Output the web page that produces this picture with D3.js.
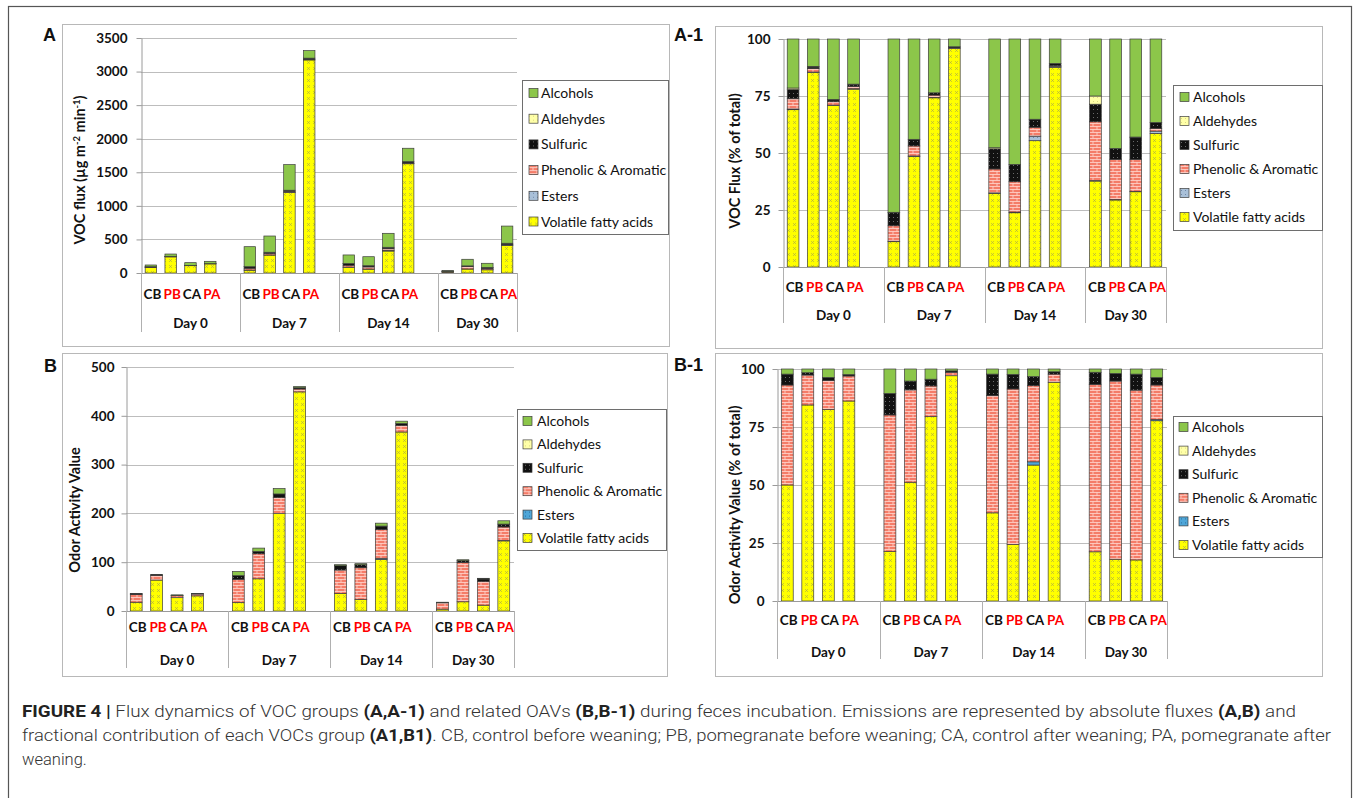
<!DOCTYPE html>
<html><head><meta charset="utf-8">
<script src="https://cdn.jsdelivr.net/npm/d3@7/dist/d3.min.js"></script>
<style>
body{margin:0;background:#fff;}
svg{display:block;}
</style></head><body>
<svg id="fig" width="1360" height="798"></svg>
<script>
// ---------- DATA ----------
const days = ["Day 0","Day 7","Day 14","Day 30"];
const treatments = ["CB","PB","CA","PA"];
const legendGroups = ["Alcohols","Aldehydes","Sulfuric","Phenolic & Aromatic","Esters","Volatile fatty acids"];
const stackGroups = ["Volatile fatty acids","Esters","Phenolic & Aromatic","Sulfuric","Aldehydes","Alcohols"];

const fluxTicks = [0,500,1000,1500,2000,2500,3000,3500];
const pctTicks = [0,25,50,75,100];
const oavTicks = [0,100,200,300,400,500];

// Panel A: VOC flux (µg m-2 min-1); order Day0 CB,PB,CA,PA | Day7 | Day14 | Day30
const fluxVFA       = [82,241,109,136, 43,268,1198,3173, 87,58,327,1627, 13,60,48,410];
const fluxEsters    = [0.4,0.6,0.3,0, 1,1,3,0, 0.5,0.7,12,7, 0,0.4,0.3,7];
const fluxPhenolic  = [5,4,2.3,1.7, 27,24,16,10, 28,32,23,6, 9,36,20,8];
const fluxSulfuric  = [5,2,1.2,1.2, 22,16,16,17, 24,18,21,19, 3,10,14,18];
const fluxAldehydes = [1,1,0.3,0, 1,0,0,0, 1.3,0,0,0, 1,0,0.4,0];
const fluxAlcohols  = [26,34,41,35, 298,242,381,112, 128,134,208,199, 9,98,62,256];

// Panel A-1: VOC flux (% of total)
const pctFluxVFA       = [69,85.3,70.8,78, 11.1,48.5,74.2,95.8, 32.3,23.8,55.4,87.6, 37.7,29.4,33,58.6];
const pctFluxEsters    = [0.3,0.2,0.2,0.2, 0.2,0.2,0.2,0, 0.2,0.3,2,0.4, 0.2,0.2,0.2,1];
const pctFluxPhenolic  = [4.5,1.5,1.5,1, 6.8,4.4,1,0.3, 10.5,13.3,3.9,0.3, 25.8,17.6,14,1.2];
const pctFluxSulfuric  = [4,0.7,0.8,0.7, 5.7,2.9,1,0.5, 8.8,7.6,3.5,1, 7.7,4.8,9.5,2.6];
const pctFluxAldehydes = [0.7,0.3,0.2,0.3, 0.2,0,0,0, 0.5,0,0,0, 3.6,0,0.3,0];
const pctFluxAlcohols  = [21.5,12,26.5,19.8, 76,44,23.6,3.4, 47.7,55,35.2,10.7, 25,48,43,36.6];

// Panel B: Odor Activity Value
const oavVFA       = [18,63.4,27.3,31, 17.3,66,199.5,449, 36,23.7,105.5,366.8, 3.8,18.9,11.9,143.7];
const oavEsters    = [0,0,0,0, 0,0,0,0, 0,0,2.5,0, 0,0,0,0.9];
const oavPhenolic  = [15.5,9.7,4.1,3.9, 47.7,51.3,33.1,6, 48,65,59,13.6, 13,80.6,49,27.6];
const oavSulfuric  = [1.7,0.7,0.5,0.2, 7.5,4.9,7.3,2.5, 8.8,6.1,7,3.9, 0.9,3.5,4.6,5.9];
const oavAldehydes = [0,0,0,0, 0,0,0,0, 0,0,0,0, 0,0,0,0];
const oavAlcohols  = [0.8,1.2,1.2,0.9, 8.5,6.7,11,2.5, 2.1,2.2,6,4.7, 0.3,2,1.5,6.8];

// Panel B-1: Odor Activity Value (% of total)
const pctOavVFA       = [50,84.5,82.6,86.2, 21.3,51.2,79.5,97.1, 38,24.4,58.6,94.3, 21.2,18,17.7,77.7];
const pctOavEsters    = [0,0,0,0, 0,0,0,0, 0,0,1.4,0, 0,0,0,0.5];
const pctOavPhenolic  = [43.1,12.9,12.4,10.8, 58.9,39.8,13.2,1.5, 50.5,67,32.8,3.5, 72.2,76.8,73.2,14.9];
const pctOavSulfuric  = [4.7,1,1.4,0.6, 9.3,3.8,2.9,0.6, 9.3,6.3,3.9,1, 5.2,3.3,6.9,3.2];
const pctOavAldehydes = [0,0,0,0, 0,0,0,0, 0,0,0,0, 0,0,0,0];
const pctOavAlcohols  = [2.2,1.6,3.6,2.4, 10.5,5.2,4.4,0.8, 2.2,2.3,3.3,1.2, 1.4,1.9,2.2,3.7];

// ---------- DRAWING ----------
const svg = d3.select("#fig");
const FONT = "Lato, 'Open Sans', sans-serif";
const defs = svg.append("defs");

function pat(id, w, h, bg, draw){
  const p = defs.append("pattern").attr("id", id).attr("patternUnits","userSpaceOnUse")
    .attr("width", w).attr("height", h);
  p.append("rect").attr("width", w).attr("height", h).attr("fill", bg);
  draw(p);
}
pat("pVFA", 6, 6, "#FFFF00", p => p.append("path").attr("d","M1,1L4,4M4,1L1,4")
  .attr("stroke","#A8A84A").attr("stroke-width",0.6).attr("fill","none"));
pat("pPhen", 8, 6, "#F47C68", p => p.append("path").attr("d","M0,0.5H8M0,3.5H8M1,0.5V3.5M5,3.5V6.5")
  .attr("stroke","#FFD8D0").attr("stroke-width",0.8).attr("fill","none"));
pat("pSulf", 4, 4, "#111111", p => p.append("rect").attr("x",1).attr("y",1).attr("width",1).attr("height",1).attr("fill","#6a6a6a"));
pat("pAld", 4, 4, "#FFFFA8", p => p.append("rect").attr("x",1).attr("y",1).attr("width",1).attr("height",1).attr("fill","#D8D880"));
pat("pEstA", 4, 4, "#A9C0D8", p => p.append("rect").attr("x",1).attr("y",1).attr("width",1).attr("height",1).attr("fill","#7088A8"));
pat("pEstB", 4, 4, "#4FA6D8", p => p.append("rect").attr("x",1).attr("y",1).attr("width",1).attr("height",1).attr("fill","#2A6E9E"));

function fills(est){
  return {"Alcohols":"#8CC64A","Aldehydes":"url(#pAld)","Sulfuric":"url(#pSulf)",
    "Phenolic & Aromatic":"url(#pPhen)","Esters":"url(#"+est+")","Volatile fatty acids":"url(#pVFA)"};
}

// outer figure frame
svg.append("rect").attr("x",8.5).attr("y",6.5).attr("width",1343).attr("height",820)
  .attr("fill","none").attr("stroke","#555").attr("stroke-width",1.2);

function drawPanel(c){
  const g = svg.append("g");
  const fillMap = fills(c.est);
  g.append("rect").attr("x",c.box[0]+0.5).attr("y",c.box[1]+0.5)
    .attr("width",c.box[2]-c.box[0]).attr("height",c.box[3]-c.box[1])
    .attr("fill","#fff").attr("stroke","#B8B8B8");
  svg.append("text").attr("x",c.lx).attr("y",c.ly).text(c.letter)
    .attr("font-family","Arial, 'Liberation Sans', sans-serif").attr("font-weight","bold")
    .attr("font-size",18).attr("fill","#111");

  const slots = [];
  days.forEach((d,i)=>{ treatments.forEach(t=>slots.push(d+"|"+t)); if(i<days.length-1) slots.push(d+"|gap"); });
  const x = d3.scaleBand().domain(slots).range([c.left,c.right]).paddingInner(0.42).paddingOuter(0.21);
  const y = d3.scaleLinear().domain([0,c.ymax]).range([c.bottom,c.top]);

  g.selectAll("line.grid").data(c.ticks.filter(t=>t>0)).join("line")
    .attr("x1",c.left).attr("x2",c.right).attr("y1",d=>Math.round(y(d))+0.5).attr("y2",d=>Math.round(y(d))+0.5)
    .attr("stroke","#BDBDBD").attr("stroke-width",1);

  const ax = g.append("g").attr("transform",`translate(${c.left+0.5},0)`)
    .call(d3.axisLeft(y).tickValues(c.ticks).tickFormat(d3.format("d")).tickSize(5).tickPadding(c.tpad).tickSizeOuter(0));
  ax.select(".domain").attr("stroke","#9A9A9A");
  ax.selectAll(".tick line").attr("stroke","#9A9A9A");
  ax.selectAll(".tick text").attr("font-family",FONT).attr("font-weight","bold")
    .attr("font-size",13.5).attr("fill","#111");

  const rows = c.series[0].map((_,i)=>{
    const r = {slot: days[Math.floor(i/4)]+"|"+treatments[i%4]};
    stackGroups.forEach((k,j)=>{ r[k] = c.series[j][i]; });
    return r;
  });
  const stacked = d3.stack().keys(stackGroups)(rows);
  g.selectAll("g.layer").data(stacked).join("g")
    .attr("fill", d=>fillMap[d.key])
    .selectAll("rect").data(d=>d.filter(s=>s[1]-s[0]>0)).join("rect")
      .attr("x", d=>x(d.data.slot)).attr("width", x.bandwidth())
      .attr("y", d=>y(Math.min(d[1],c.ymax))).attr("height", d=>Math.max(0,y(d[0])-y(Math.min(d[1],c.ymax))))
      .attr("stroke","#3C3C3C").attr("stroke-width",0.7);

  g.append("line").attr("x1",c.left).attr("x2",c.right).attr("y1",c.bottom+0.5).attr("y2",c.bottom+0.5)
    .attr("stroke","#9A9A9A");
  const step = x.step();
  const bounds = [c.left];
  days.forEach((d,i)=>{ if(i>0) bounds.push(x(d+"|CB") - step*x.paddingInner()/2); });
  bounds.push(c.right);
  g.selectAll("line.sep").data(bounds).join("line")
    .attr("x1",d=>Math.round(d)+0.5).attr("x2",d=>Math.round(d)+0.5)
    .attr("y1",c.bottom).attr("y2",c.sepBottom).attr("stroke","#B0B0B0");
  g.selectAll("text.cat").data(rows).join("text")
    .attr("x",d=>x(d.slot)+x.bandwidth()/2+1.5).attr("y",c.catY).attr("text-anchor","middle")
    .attr("font-family",FONT).attr("font-weight","bold").attr("font-size",13.5)
    .attr("fill",d=>/P/.test(d.slot.split("|")[1]) ? "#FF0000" : "#111")
    .text(d=>d.slot.split("|")[1]);
  g.selectAll("text.day").data(days).join("text")
    .attr("x",(d,i)=>(bounds[i]+bounds[i+1])/2).attr("y",c.dayY).attr("text-anchor","middle")
    .attr("font-family",FONT).attr("font-weight","bold").attr("font-size",13.5).attr("fill","#111")
    .text(d=>d);

  const yt = g.append("text").attr("transform",`translate(${c.tx},${c.ty}) rotate(-90)`)
    .attr("text-anchor","middle").attr("font-family",FONT).attr("font-weight","bold")
    .attr("font-size",14.5).attr("fill","#111");
  c.title.forEach(p=>{
    const ts = yt.append("tspan").text(p.t);
    if(p.sup){ ts.attr("font-size",9.5).attr("dy",-5); }
    else if(p.after){ ts.attr("dy",5); }
  });

  const L = c.legend;
  g.append("rect").attr("x",L.x0+0.5).attr("y",L.y0+0.5).attr("width",L.x1-L.x0).attr("height",L.y1-L.y0)
    .attr("fill","#fff").attr("stroke","#6E6E6E");
  const li = g.selectAll("g.li").data(legendGroups).join("g")
    .attr("transform",(d,i)=>`translate(0,${L.first + i*L.step})`);
  li.append("rect").attr("x",L.sw).attr("y",-4.5).attr("width",9).attr("height",9)
    .attr("fill",d=>fillMap[d]).attr("stroke","#3C3C3C").attr("stroke-width",0.7);
  li.append("text").attr("x",L.tx).attr("y",5).attr("font-family",FONT)
    .attr("font-size",14).attr("fill","#111").text(d=>d);
}

drawPanel({letter:"A", lx:43, ly:41, box:[62,24,669,346], left:141, right:517, top:38, bottom:273,
  ymax:3500, ticks:fluxTicks, tpad:9, est:"pEstA",
  series:[fluxVFA,fluxEsters,fluxPhenolic,fluxSulfuric,fluxAldehydes,fluxAlcohols],
  catY:299, dayY:328, sepBottom:332, tx:85, ty:170,
  title:[{t:"VOC flux (µg m"},{t:"-2",sup:true},{t:" min",after:true},{t:"-1",sup:true},{t:")",after:true}],
  legend:{x0:522,y0:80,x1:668,y1:234,first:93,step:25.7,sw:529,tx:541}});

drawPanel({letter:"A-1", lx:674, ly:41, box:[715,26,1322,348], left:783, right:1166, top:39, bottom:267,
  ymax:100, ticks:pctTicks, tpad:8, est:"pEstA",
  series:[pctFluxVFA,pctFluxEsters,pctFluxPhenolic,pctFluxSulfuric,pctFluxAldehydes,pctFluxAlcohols],
  catY:292, dayY:320, sepBottom:323, tx:740, ty:161,
  title:[{t:"VOC Flux (% of total)"}],
  legend:{x0:1173,y0:85,x1:1322,y1:230,first:97,step:24,sw:1180,tx:1193}});

drawPanel({letter:"B", lx:44, ly:372, box:[62,353,667,676], left:126, right:514, top:367, bottom:611,
  ymax:500, ticks:oavTicks, tpad:7, est:"pEstB",
  series:[oavVFA,oavEsters,oavPhenolic,oavSulfuric,oavAldehydes,oavAlcohols],
  catY:632, dayY:665, sepBottom:668, tx:80, ty:510,
  title:[{t:"Odor Activity Value"}],
  legend:{x0:517,y0:409,x1:666,y1:550,first:421,step:23.4,sw:523,tx:537}});

drawPanel({letter:"B-1", lx:674, ly:371, box:[715,353,1322,676], left:777, right:1167, top:369, bottom:601,
  ymax:100, ticks:pctTicks, tpad:8, est:"pEstB",
  series:[pctOavVFA,pctOavEsters,pctOavPhenolic,pctOavSulfuric,pctOavAldehydes,pctOavAlcohols],
  catY:625, dayY:657, sepBottom:659, tx:740, ty:505,
  title:[{t:"Odor Activity Value (% of total)"}],
  legend:{x0:1173,y0:416,x1:1322,y1:557,first:427,step:23.6,sw:1179,tx:1192}});

// caption
const cap = svg.append("g").attr("font-family","Roboto, 'Liberation Sans', sans-serif").attr("font-size",16.5).attr("fill","#333");
const capLines = [
  {y:717, len:1274, parts:[{t:"FIGURE 4 | ",b:1},{t:"Flux dynamics of VOC groups "},{t:"(A,A-1)",b:1},{t:" and related OAVs "},{t:"(B,B-1)",b:1},{t:" during feces incubation. Emissions are represented by absolute fluxes "},{t:"(A,B)",b:1},{t:" and"}]},
  {y:741, len:1309, parts:[{t:"fractional contribution of each VOCs group "},{t:"(A1,B1)",b:1},{t:". CB, control before weaning; PB, pomegranate before weaning; CA, control after weaning; PA, pomegranate after"}]},
  {y:765, len:0, parts:[{t:"weaning."}]}
];
capLines.forEach(l=>{
  const t = cap.append("text").attr("x",22).attr("y",l.y);
  if(l.len) t.attr("textLength",l.len).attr("lengthAdjust","spacingAndGlyphs");
  l.parts.forEach(p=>t.append("tspan").text(p.t).attr("font-weight",p.b?700:300).attr("fill",p.b?"#222":"#333"));
});
</script>
</body></html>
